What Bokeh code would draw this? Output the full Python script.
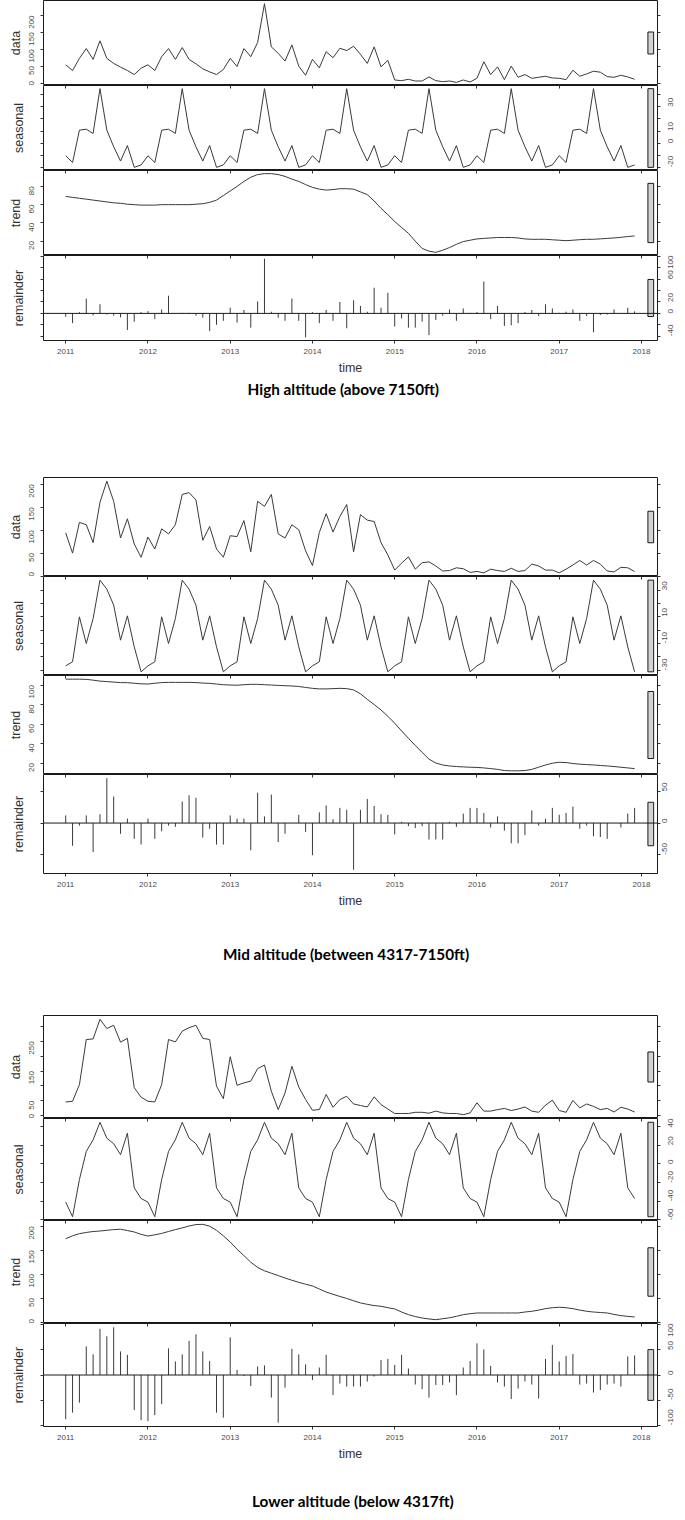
import math
from bokeh.plotting import figure
from bokeh.models import (Range1d, LinearAxis, FixedTicker, Span,
                          CustomJSTickFormatter)
from bokeh.core.properties import value
from bokeh.layouts import column
from bokeh.embed import file_html
from bokeh.resources import INLINE

# ---------------- data (monthly, Jan 2011 .. Dec 2017) ----------------
months = [2011 + i / 12 for i in range(84)]
years = [2011, 2012, 2013, 2014, 2015, 2016, 2017, 2018]

high_data = [54, 37, 73, 102, 70, 125, 73, 58, 47, 37, 25, 44,
             54, 37, 78, 102, 70, 105, 70, 57, 42, 33, 25, 40,
             73, 49, 102, 78, 120, 235, 107, 88, 65, 113, 50, 23,
             70, 45, 93, 75, 103, 96, 109, 85, 58, 107, 48, 67,
             9, 7, 11, 6, 6, 18, 7, 4, 6, 2, 9, 3,
             14, 63, 25, 48, 10, 50, 17, 25, 14, 17, 20, 15,
             14, 10, 38, 20, 27, 35, 32, 19, 17, 23, 18, 11]
high_seasonal_month = [-10.4, -16, 10.7, 11.5, 8, 45, 10.7, -3, -14.8, -2, -20, -18]
high_trend = [69, 68, 67, 66, 65, 64, 63, 62, 61.5, 60.5, 60, 59.5,
              59.5, 59.5, 60, 60, 60, 60, 60, 60.5, 61, 62.5, 65, 70,
              75, 80, 85.5, 90, 93, 94, 94, 93, 91, 88, 85.5, 82,
              79, 77, 76, 76.5, 77.5, 77.5, 77, 74, 71, 64, 56, 49,
              41.5, 35, 28.6, 20, 12, 9, 7.7, 10, 13, 16.5, 19.5, 21,
              22.4, 23, 23.5, 24, 24, 24, 23.5, 22.4, 22, 22, 22, 21.5,
              21, 20.5, 21, 21.6, 22, 22, 22.5, 23, 23.5, 24.2, 25, 25.7]
high_remainder = [-6, -17, 2, 26, -3.5, 16, -2, -4, -7, -29, -14.5, 2.3,
                  4, -10, 7, 31, 0, 1, 1, -4, -7.5, -31, -20, -13,
                  10, -16, 6, -25, 21, 96, 3, -7.5, -13, 26, -13, -42,
                  2, -17, 6, -13, 20, -26, 23, 13, 3, 45, 10, 36,
                  -23, -9, -25, -25, -14.5, -38, -11.6, -4, 7, -13, 8.7, 1,
                  2.3, 56, -10, 13, -22, -21, -17, 2.3, 6, -4.6, 16, 8.7,
                  1, 3, 7, -13, -4.6, -33, -3, -2, 7, 0, 10, 3.5]

mid_data = [94, 50, 117, 112, 73, 161, 207, 163, 83, 125, 70, 41,
            85, 59, 103, 92, 112, 178, 182, 166, 78, 108, 59, 41,
            88, 86, 121, 53, 163, 152, 178, 92, 83, 112, 101, 55,
            23, 95, 136, 96, 130, 156, 53, 134, 122, 119, 73, 46,
            13, 28, 42, 15, 29, 31, 22, 11, 12, 18, 16, 8,
            10, 7, 15, 12, 10, 17, 10, 12, 26, 22, 13, 13,
            7, 15, 24, 34, 24, 34, 26, 11, 9, 19, 18, 10]
mid_seasonal_month = [-26.75, -23.75, 10, -10, 8.75, 37.5, 30.75, 18.75, -7.5, 10.75, -12.5, -31.25]
mid_trend = [106, 106, 106, 105.8, 105, 104, 103.5, 103, 102.5, 102.4, 101.8, 101.2,
             101, 101.8, 102.5, 102.7, 102.7, 102.7, 102.7, 102.5, 102, 101.7, 101, 100.3,
             100, 99.8, 100.3, 100.7, 100.7, 100.3, 100, 99.6, 99.3, 99, 98.5, 97.5,
             96.6, 96, 96, 96.3, 96.6, 96.3, 95, 91, 85.3, 80, 74.4, 68,
             60.8, 53, 45.4, 38, 31, 24, 20, 18, 17, 16.4, 16, 15.7,
             15.5, 15, 14.3, 13.5, 12.3, 12, 12, 12.3, 13.5, 15.7, 18, 19.8,
             20.8, 20.5, 19.5, 18.8, 18.4, 18, 17.5, 17, 16.4, 15.7, 15, 14.3]
mid_remainder = [12, -36, -4, 12, -46, 14, 71, 42, -17, 7, -25, -34,
                 7, -25, -13, -4, -6, 34, 44, 40, -23, -9, -34, -34,
                 12, 7, 7, -43, 48, 10.5, 45, -30, -17, 0, 13, -14,
                 -51, 17, 28, 6, 24, 21, -74, 21, 38, 27, 14, 13,
                 -18, 2, -5, -8, -5, -26, -26, -26, 2, -6, 15, 24,
                 24, 16, -7, 10.5, -12, -32, -32, -19, 20, -4, 7, 24,
                 13, 16, 26, -9, -4, -21, -22, -25, 0, -7, 15, 24]

low_data = [46, 48, 104, 256, 258, 324, 293, 304, 247, 260, 94, 62,
            48, 46, 104, 256, 248, 284, 296, 304, 260, 256, 99, 57,
            198, 102, 110, 116, 158, 170, 82, 20, 76, 166, 96, 54,
            18, 20, 71, 28, 54, 65, 39, 34, 29, 63, 37, 22,
            7, 7, 7, 11, 11, 8, 15, 9, 7, 7, 3, 9,
            43, 15, 15, 20, 24, 17, 22, 29, 15, 11, 35, 52,
            17, 11, 51, 26, 39, 31, 20, 24, 12, 28, 22, 12]
low_seasonal_month = [-40.9, -56.5, -16.7, 13.4, 25.8, 44.6, 27.6, 21.6, 9.9, 32.9, -25.6, -37]
low_trend = [174, 180, 184.5, 187, 189, 190, 191.5, 193, 193.7, 191, 188, 183,
             179.6, 182, 185, 189, 193, 196.5, 200.5, 203.5, 204, 200, 191.5, 180,
             167, 152, 138.7, 125, 114, 107, 102, 97, 92, 87.3, 83, 79,
             75.4, 69, 62.7, 58, 53.5, 49.3, 44.5, 40, 37, 34.5, 33, 30,
             27.5, 21, 15.5, 11.5, 8.5, 6.5, 5, 7, 9, 12, 15.5, 17.5,
             19, 19, 19, 19, 19, 19, 19, 21, 22.5, 25, 28, 30,
             31, 30, 28, 25, 22.5, 21, 20, 19, 16, 13.4, 12, 10.6]
low_remainder = [-88, -75, -55, 57, 41, 92, 77, 95, 47, 40, -70, -90,
                 -92, -80, -58, 53, 27, 41, 68, 81, 47, 28, -75, -85,
                 75, 10, -2, -22, 17, 19, -45, -95, -25, 52, 41, 21,
                 -10, 15, 40, -40, -17, -23, -23, -23, -13, -3, 30, 32,
                 20, 40, 13, -19, -28, -45, -20, -20, -15, -40, 15, 28,
                 63, 51, 18, -15, -23, -48, -27, -13, -19, -47, 32, 60,
                 27, 38, 42, -19, -17, -35, -30, -19, -17, -23, 37, 39]

high_seasonal = high_seasonal_month * 7
mid_seasonal = mid_seasonal_month * 7
low_seasonal = low_seasonal_month * 7

titles = ["High altitude (above 7150ft)",
          "Mid altitude (between 4317-7150ft)",
          "Lower altitude (below 4317ft)"]

# ---------------- styling / layout ----------------
FONT = "Liberation Sans"
W = 685
LEFT = 43
X0, X1 = 2010.73, 2018.195
LINE = "#3a3a3a"


def fmt(shown):
    return CustomJSTickFormatter(args=dict(shown=list(shown)),
                                 code="return shown.indexOf(tick) >= 0 ? String(tick) : '';")


def panel(xr, y, ticks, shown, side, name, frame_h, right_b, rstand,
          kind="line", bottom_b=0, top_ticks=False, bar_len=None):
    lo, hi = min(y), max(y)
    pad = 0.04 * (hi - lo)
    p = figure(width=W, height=frame_h + bottom_b, x_range=xr,
               y_range=Range1d(lo - pad, hi + pad), title=None,
               output_backend="svg", toolbar_location=None,
               x_axis_location=None, y_axis_location=None,
               min_border_left=LEFT, min_border_right=right_b,
               min_border_top=0, min_border_bottom=bottom_b)
    p.grid.visible = False
    p.outline_line_color = "#1a1a1a"
    p.outline_line_width = 1
    common = dict(major_tick_out=3, major_tick_in=0, minor_tick_out=0, minor_tick_in=0,
                  axis_line_color=None, major_tick_line_color="#333333",
                  major_label_orientation=math.pi / 2,
                  major_label_text_font=FONT, major_label_text_font_size="8px",
                  major_label_text_color="#4a4a4a")
    la = LinearAxis(ticker=FixedTicker(ticks=ticks),
                    formatter=fmt(shown if side == "left" else []),
                    axis_label=name, axis_label_text_font=FONT,
                    axis_label_text_font_size="12.5px",
                    axis_label_text_font_style="normal",
                    axis_label_text_color="#333333",
                    axis_label_standoff=1 if side == "left" else 15,
                    major_label_standoff=9, **common)
    p.add_layout(la, "left")
    ra = LinearAxis(ticker=FixedTicker(ticks=ticks),
                    formatter=fmt(shown if side == "right" else []),
                    major_label_standoff=rstand, **common)
    p.add_layout(ra, "right")
    if top_ticks:
        ta = LinearAxis(ticker=FixedTicker(ticks=years), formatter=fmt([]),
                        major_tick_in=3, major_tick_out=0, minor_tick_in=0, minor_tick_out=0,
                        axis_line_color=None, major_tick_line_color="#333333",
                        major_label_text_font_size="0px", major_label_standoff=0)
        p.add_layout(ta, "above")
    if kind == "line":
        p.line(months, y, line_color=LINE, line_width=1)
    else:
        p.add_layout(Span(location=0, dimension="width", line_color="#1a1a1a", line_width=1))
        p.segment(x0=months, y0=[0] * len(y), x1=months, y1=y,
                  line_color=LINE, line_width=1)
    # range bar (R plot.stl style)
    dx = (X1 - X0) / 64
    cy = (lo + hi) / 2
    p.quad(left=[X1 - dx], right=[X1 - 0.4 * dx], bottom=[cy - bar_len / 2],
           top=[cy + bar_len / 2], fill_color="#d3d3d3", line_color="#1a1a1a",
           line_width=1)
    if bottom_b:
        xa = LinearAxis(ticker=FixedTicker(ticks=years), axis_label="time",
                        major_tick_out=3, major_tick_in=0, minor_tick_out=0, minor_tick_in=0,
                        axis_line_color=None, major_tick_line_color="#333333",
                        major_label_text_font=FONT, major_label_text_font_size="8px",
                        major_label_text_color="#4a4a4a", major_label_standoff=5,
                        axis_label_text_font=FONT, axis_label_text_font_size="12.5px",
                        axis_label_text_font_style="normal",
                        axis_label_text_color="#333333", axis_label_standoff=4)
        p.add_layout(xa, "below")
    return p


def block(series, ticks, shown, heights, right_b, rstand):
    xr = Range1d(X0, X1)
    bar_len = min(max(s) - min(s) for s in series)
    names = ["data", "seasonal", "trend", "remainder"]
    sides = ["left", "right", "left", "right"]
    figs = []
    for k in range(4):
        figs.append(panel(xr, series[k], ticks[k], shown[k], sides[k], names[k],
                          heights[k], right_b, rstand,
                          kind="bar" if k == 3 else "line",
                          bottom_b=38 if k == 3 else 0,
                          top_ticks=(k > 0), bar_len=bar_len))
    return figs


def title_fig(text, h, cy, shift):
    p = figure(width=W, height=h, x_range=Range1d(0, W), y_range=Range1d(0, h),
               title=None, output_backend="svg", toolbar_location=None,
               x_axis_location=None, y_axis_location=None, min_border=0,
               outline_line_color=None)
    p.grid.visible = False
    p.text(x=[W / 2 + shift], y=[h - cy], text=[text], text_align="center",
           text_baseline="middle", text_font=value("Lato"), text_font_style="bold",
           text_font_size="15.3px", text_color="#000000")
    return p


b1 = block([high_data, high_seasonal, high_trend, high_remainder],
           [[0, 50, 100, 150, 200], [-20, -10, 0, 10, 20, 30, 40], [20, 40, 60, 80],
            [-40, -20, 0, 20, 40, 60, 80, 100]],
           [[0, 50, 100, 150, 200], [-20, 0, 10, 30], [20, 40, 60, 80], [-40, 0, 20, 60, 100]],
           [85, 85, 85, 85], 28, 10)
b2 = block([mid_data, mid_seasonal, mid_trend, mid_remainder],
           [[0, 50, 100, 150, 200], [-30, -20, -10, 0, 10, 20, 30, 40], [20, 40, 60, 80, 100],
            [-50, 0, 50]],
           [[0, 50, 100, 150, 200], [-30, -10, 10, 30], [20, 40, 60, 80, 100], [-50, 0, 50]],
           [99, 99, 99, 99], 21, 4)
b3 = block([low_data, low_seasonal, low_trend, low_remainder],
           [[0, 50, 100, 150, 200, 250, 300], [-60, -40, -20, 0, 20, 40], [0, 50, 100, 150, 200],
            [-100, -50, 0, 50, 100]],
           [[0, 50, 150, 250], [-60, -40, -20, 0, 20, 40], [0, 50, 100, 150, 200],
            [-100, -50, 0, 50, 100]],
           [103, 102, 103, 103], 28, 10)

layout = column(*b1, title_fig(titles[0], 99, 10, -8),
                *b2, title_fig(titles[1], 104, 42, -5),
                *b3, title_fig(titles[2], 51, 36, 3))

open("out.html", "w").write(file_html(layout, INLINE))
